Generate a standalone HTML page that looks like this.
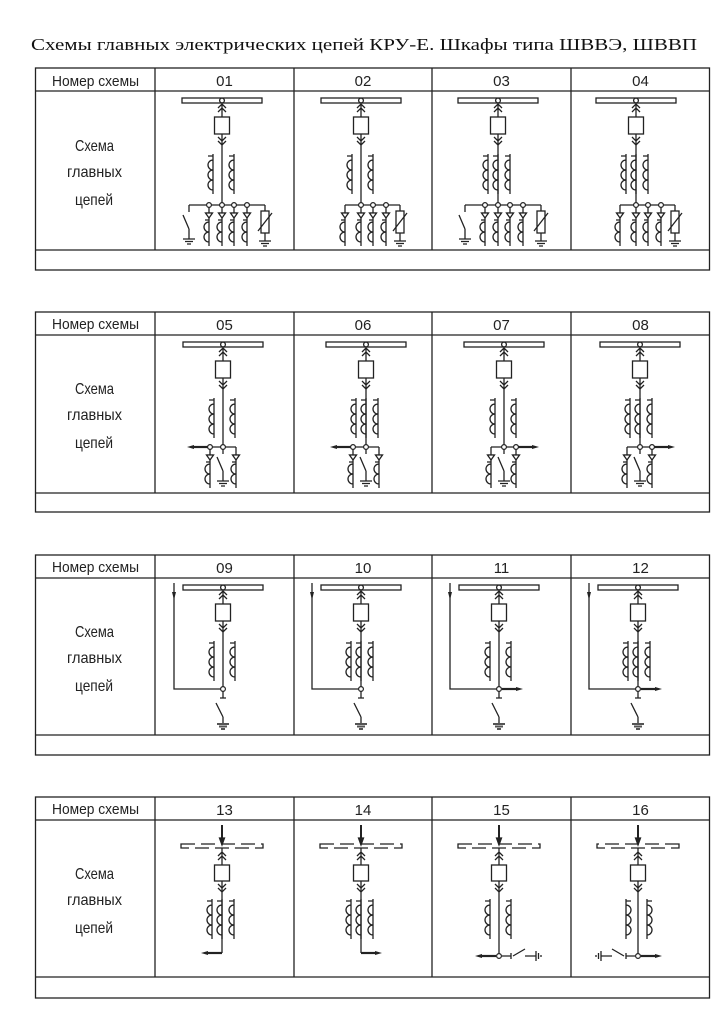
<!DOCTYPE html>
<html><head><meta charset="utf-8"><style>
html,body{margin:0;padding:0;background:#fff;}
svg{display:block;}
.t{font-family:"Liberation Sans Narrow","Liberation Sans","DejaVu Sans",sans-serif;font-size:15px;fill:#222;}
.s{stroke:#222;stroke-width:1.3;fill:none;}
</style></head><body>
<svg width="728" height="1030" viewBox="0 0 728 1030" xmlns="http://www.w3.org/2000/svg">
<defs>
<g id="top" class="s">
 <rect x="-40" y="7" width="80" height="5" fill="#fff"/>
 <path d="M0,12 V26 M-4,17 L0,13 L4,17 M-4,21 L0,17 L4,21"/>
 <circle cx="0" cy="9.5" r="2.4" fill="#fff"/>
 <rect x="-7.5" y="26" width="15" height="17"/>
 <path d="M0,43 V54 M-4,46 L0,50 L4,46 M-4,50 L0,54 L4,50"/>
</g>
<g id="top4" class="s">
 <path d="M0,5 V23" stroke-width="2"/>
 <path d="M-2.5,18 L0,25 L2.5,18 Z" fill="#222"/>
 <rect x="-41" y="24" width="82" height="4" stroke-dasharray="14,6"/>
 <path d="M0,28 V45 M-4,36 L0,32 L4,36 M-4,40 L0,36 L4,40"/>
 <rect x="-7.5" y="45" width="15" height="16"/>
 <path d="M-4,64 L0,68 L4,64 M-4,68 L0,72 L4,68"/>
</g>
<path id="ct" class="s" d="M0,-2 V38 M-5,0 H0 M0,4 a5,5 0 0 0 0,10 M0,14 a5,5 0 0 0 0,10 M0,24 a5,5 0 0 0 0,10"/>
<g id="br" class="s">
 <path d="M0,0 V41 M-3.5,8 H3.5 M0,17 a5,5 0 0 0 0,10 M0,27 a5,5 0 0 0 0,10 M-4,15 H0"/>
 <path d="M-3.5,8 L3.5,8 L0,13 Z" fill="#fff"/>
</g>
<path id="gnd" class="s" d="M-6,0 H6 M-4,2.5 H4 M-2,5 H2"/>
<g id="es" class="s">
 <path d="M0,0 V7 M-6,10 L0,24 M0,24 V34"/>
 <use href="#gnd" transform="translate(0,34)"/>
</g>
<g id="ar" class="s">
 <path d="M0,0 V6 M0,28 V36 M-7,26 L7,8"/>
 <rect x="-4" y="6" width="8" height="22"/>
 <use href="#gnd" transform="translate(0,36)"/>
</g>
<g id="ct2"><use href="#ct" transform="translate(-9,65)"/><use href="#ct" transform="translate(12,65)"/></g>
<g id="ct3"><use href="#ct" transform="translate(-10,65)"/><use href="#ct" transform="translate(0,65)"/><use href="#ct" transform="translate(12,65)"/></g>
<g id="ct2b"><use href="#ct" transform="translate(-9,81)"/><use href="#ct" transform="translate(12,81)"/></g>
<g id="ct3b"><use href="#ct" transform="translate(-10,81)"/><use href="#ct" transform="translate(0,81)"/><use href="#ct" transform="translate(12,81)"/></g>
<circle id="nd" r="2.4" fill="#fff" stroke="#222" stroke-width="1.2"/>
<g id="aR"><path d="M0,0 H16" stroke="#222" stroke-width="2.2"/><path d="M14,-2 L21,0 L14,2 Z" fill="#222"/></g>
<g id="aL"><path d="M0,0 H-16" stroke="#222" stroke-width="2.2"/><path d="M-14,-2 L-21,0 L-14,2 Z" fill="#222"/></g>
<g id="b1">
 <path class="s" d="M0,54 V114 M-33,114 H43"/>
 <use href="#es" transform="translate(-33,114)"/>
 <use href="#br" transform="translate(-13,114)"/><use href="#br" transform="translate(0,114)"/>
 <use href="#br" transform="translate(12,114)"/><use href="#br" transform="translate(25,114)"/>
 <use href="#ar" transform="translate(43,114)"/>
 <use href="#nd" x="-13" y="114"/><use href="#nd" x="0" y="114"/><use href="#nd" x="12" y="114"/><use href="#nd" x="25" y="114"/>
</g>
<g id="b2">
 <path class="s" d="M0,54 V114 M-16,114 H39"/>
 <use href="#br" transform="translate(-16,114)"/><use href="#br" transform="translate(0,114)"/>
 <use href="#br" transform="translate(12,114)"/><use href="#br" transform="translate(25,114)"/>
 <use href="#ar" transform="translate(39,114)"/>
 <use href="#nd" x="0" y="114"/><use href="#nd" x="12" y="114"/><use href="#nd" x="25" y="114"/>
</g>
<g id="b5">
 <path class="s" d="M0,54 V112 M-13,112 H13"/>
 <use href="#aL" transform="translate(-15,112)"/>
 <use href="#br" transform="translate(-13,112)"/><use href="#br" transform="translate(13,112)"/>
 <use href="#es" transform="translate(0,112)"/>
 <use href="#nd" x="-13" y="112"/><use href="#nd" x="0" y="112"/>
</g>
<g id="b7">
 <path class="s" d="M0,54 V112 M-13,112 H12"/>
 <use href="#aR" transform="translate(14,112)"/>
 <use href="#br" transform="translate(-13,112)"/><use href="#br" transform="translate(12,112)"/>
 <use href="#es" transform="translate(0,112)"/>
 <use href="#nd" x="0" y="112"/><use href="#nd" x="12" y="112"/>
</g>
<g id="b9">
 <path class="s" d="M0,54 V111 M-49,5 V111 H0 M0,113 V120 M-3,120 H3 M-7,125 L0,139 M0,139 V146"/>
 <path d="M-51,14 L-49,22 L-47,14 Z" fill="#222"/>
 <path d="M-6,146 H6 M-4,148.5 H4 M-2,151 H2" stroke="#555" stroke-width="2"/>
 <use href="#nd" x="0" y="111"/>
</g>
<g id="b15">
 <path class="s" d="M0,61 V136 M3,136 H12 M12,133 V139 M14,136 L26,129 M26,136 H37 M37,131 V141 M39.5,133 V139 M42,135 V137"/>
 <use href="#aL" transform="translate(-3,136)"/>
 <use href="#nd" x="0" y="136"/>
</g>
<g id="lab">
 <text class="t" x="52" y="86" textLength="87" lengthAdjust="spacingAndGlyphs">Номер схемы</text>
 <text class="t" style="font-size:16px" x="75" y="151" textLength="39" lengthAdjust="spacingAndGlyphs">Схема</text>
 <text class="t" style="font-size:16px" x="67" y="177" textLength="55" lengthAdjust="spacingAndGlyphs">главных</text>
 <text class="t" style="font-size:16px" x="75" y="205" textLength="38" lengthAdjust="spacingAndGlyphs">цепей</text>
</g>
</defs>

<text x="364" y="50" text-anchor="middle" textLength="666" lengthAdjust="spacingAndGlyphs" style="font-family:'Liberation Serif',serif;font-size:17px;fill:#111">Схемы главных электрических цепей КРУ-Е. Шкафы типа ШВВЭ, ШВВП</text>

<g>
 <g class="s" stroke-width="1.5">
  <rect x="35.5" y="68" width="674" height="202"/>
  <path d="M35.5,91 H709.5 M35.5,250 H709.5 M155,68 V250 M294,68 V250 M432,68 V250 M571,68 V250"/>
 </g>
 <use href="#lab"/>
 <text class="t" x="224.5" y="86" text-anchor="middle">01</text>
 <text class="t" x="363" y="86" text-anchor="middle">02</text>
 <text class="t" x="501.5" y="86" text-anchor="middle">03</text>
 <text class="t" x="640.5" y="86" text-anchor="middle">04</text>
</g>
<g transform="translate(222,91)"><use href="#top"/><use href="#ct2"/><use href="#b1"/></g>
<g transform="translate(361,91)"><use href="#top"/><use href="#ct2"/><use href="#b2"/></g>
<g transform="translate(498,91)"><use href="#top"/><use href="#ct3"/><use href="#b1"/></g>
<g transform="translate(636,91)"><use href="#top"/><use href="#ct3"/><use href="#b2"/></g>

<g transform="translate(0,244)">
 <g class="s" stroke-width="1.5">
  <rect x="35.5" y="68" width="674" height="200"/>
  <path d="M35.5,91 H709.5 M35.5,249 H709.5 M155,68 V249 M294,68 V249 M432,68 V249 M571,68 V249"/>
 </g>
 <use href="#lab" transform="translate(0,-1)"/>
 <text class="t" x="224.5" y="86" text-anchor="middle">05</text>
 <text class="t" x="363" y="86" text-anchor="middle">06</text>
 <text class="t" x="501.5" y="86" text-anchor="middle">07</text>
 <text class="t" x="640.5" y="86" text-anchor="middle">08</text>
</g>
<g transform="translate(223,335)"><use href="#top"/><use href="#ct2"/><use href="#b5"/></g>
<g transform="translate(366,335)"><use href="#top"/><use href="#ct3"/><use href="#b5"/></g>
<g transform="translate(504,335)"><use href="#top"/><use href="#ct2"/><use href="#b7"/></g>
<g transform="translate(640,335)"><use href="#top"/><use href="#ct3"/><use href="#b7"/></g>

<g transform="translate(0,487)">
 <g class="s" stroke-width="1.5">
  <rect x="35.5" y="68" width="674" height="200"/>
  <path d="M35.5,91 H709.5 M35.5,248 H709.5 M155,68 V248 M294,68 V248 M432,68 V248 M571,68 V248"/>
 </g>
 <use href="#lab" transform="translate(0,-1)"/>
 <text class="t" x="224.5" y="86" text-anchor="middle">09</text>
 <text class="t" x="363" y="86" text-anchor="middle">10</text>
 <text class="t" x="501.5" y="86" text-anchor="middle">11</text>
 <text class="t" x="640.5" y="86" text-anchor="middle">12</text>
</g>
<g transform="translate(223,578)"><use href="#top"/><use href="#ct2"/><use href="#b9"/></g>
<g transform="translate(361,578)"><use href="#top"/><use href="#ct3"/><use href="#b9"/></g>
<g transform="translate(499,578)"><use href="#top"/><use href="#ct2"/><use href="#b9"/><use href="#aR" transform="translate(3,111)"/></g>
<g transform="translate(638,578)"><use href="#top"/><use href="#ct3"/><use href="#b9"/><use href="#aR" transform="translate(3,111)"/></g>

<g transform="translate(0,729)">
 <g class="s" stroke-width="1.5">
  <rect x="35.5" y="68" width="674" height="201"/>
  <path d="M35.5,91 H709.5 M35.5,248 H709.5 M155,68 V248 M294,68 V248 M432,68 V248 M571,68 V248"/>
 </g>
 <use href="#lab" transform="translate(0,-1)"/>
 <text class="t" x="224.5" y="86" text-anchor="middle">13</text>
 <text class="t" x="363" y="86" text-anchor="middle">14</text>
 <text class="t" x="501.5" y="86" text-anchor="middle">15</text>
 <text class="t" x="640.5" y="86" text-anchor="middle">16</text>
</g>
<g transform="translate(222,820)"><use href="#top4"/><use href="#ct3b"/><path class="s" d="M0,61 V133"/><use href="#aL" transform="translate(0,133)"/></g>
<g transform="translate(361,820)"><use href="#top4"/><use href="#ct3b"/><path class="s" d="M0,61 V133"/><use href="#aR" transform="translate(0,133)"/></g>
<g transform="translate(499,820)"><use href="#top4"/><use href="#ct2b"/><use href="#b15"/></g>
<g transform="translate(638,820) scale(-1,1)"><use href="#top4"/><use href="#ct2b"/><use href="#b15"/></g>
</svg>
</body></html>
